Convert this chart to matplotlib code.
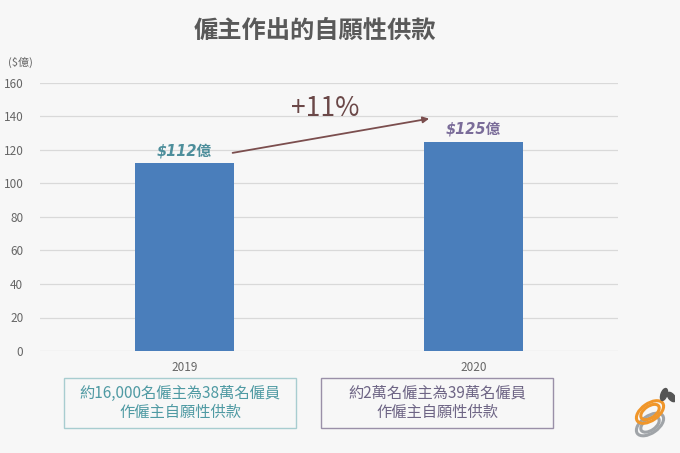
import matplotlib
matplotlib.use("Agg")
import matplotlib.pyplot as plt
from matplotlib.patches import Ellipse
import numpy as np

plt.rcParams['font.family'] = ['Noto Sans CJK TC', 'DejaVu Sans']

# data
years = ['2019', '2020']
amounts = [112, 125]
value_labels = ['$112億', '$125億']
label_colors = ['#4d8e9b', '#7a6c99']
growth = '+11%'
notes = ['約16,000名僱主為38萬名僱員\n作僱主自願性供款',
         '約2萬名僱主為39萬名僱員\n作僱主自願性供款']
note_colors = ['#4f9aa3', '#6e6585']
note_edges = ['#a8cdd0', '#9a90a8']
yticks = [0, 20, 40, 60, 80, 100, 120, 140, 160]

bg = '#f7f7f7'
fig = plt.figure(figsize=(6.8, 4.53), dpi=100, facecolor=bg)
ax = fig.add_axes([40/680, 1-351/453, 578/680, 268/453], facecolor=bg)

x = np.arange(len(years))
ax.bar(x, amounts, width=0.346, color='#4a7ebb', zorder=3)

ax.set_xlim(-0.5, 1.5)
ax.set_ylim(0, 160)
ax.set_yticks(yticks)
ax.set_xticks(x)
ax.set_xticklabels(years)
ax.grid(axis='y', color='#d9d9d9', linewidth=0.9, zorder=0)
for s in ax.spines.values():
    s.set_visible(False)
ax.tick_params(axis='both', length=0, colors='#666666', labelsize=8.5)
ax.tick_params(axis='y', pad=12)
ax.tick_params(axis='x', pad=7)

# value labels
for i in range(len(years)):
    ax.text(x[i], amounts[i] + 3, value_labels[i], ha='center', va='bottom',
            fontsize=10.5, fontweight='bold', style='italic',
            color=label_colors[i], family=['DejaVu Sans', 'Noto Sans CJK TC'])

# growth arrow
ax.annotate('', xy=(0.856, 139), xytext=(0.157, 118),
            arrowprops=dict(arrowstyle='-|>', color='#7b4e4e', lw=1.3,
                            mutation_scale=9))
ax.text(0.486, 145, growth, ha='center', va='center',
        fontsize=19, fontweight='medium', color='#6b4848')

# unit label
fig.text(8/680, 1-62/453, '($億)', fontsize=8, color='#666666', va='center')

# title
fig.text(315/680, 1-31/453, '僱主作出的自願性供款', ha='center', va='center',
         fontsize=17.5, fontweight='bold', color='#595959')

# notes boxes
boxes = [(64, 378, 232, 50), (321, 378, 232, 50)]
for (bx, by, bw, bh), note, c, ec in zip(boxes, notes, note_colors, note_edges):
    rect = plt.Rectangle((bx/680, 1-(by+bh)/453), bw/680, bh/453,
                         transform=fig.transFigure, fill=False,
                         edgecolor=ec, linewidth=1.0)
    fig.patches.append(rect)
    fig.text((bx + bw/2)/680, 1-(by + bh/2)/453, note, ha='center', va='center',
             fontsize=11, color=c, linespacing=1.15)

# small logo
lax = fig.add_axes([625/680, 1-442/453, 50/680, 60/453])
lax.set_xlim(0, 1)
lax.set_ylim(0, 1.2)
lax.axis('off')
for dy, col in [(0.35, '#a0a4a8'), (0.6, '#f0962a')]:
    for w in [0.62, 0.42]:
        lax.add_patch(Ellipse((0.5, dy), w, w*0.55, angle=35, fill=False,
                              edgecolor=col, linewidth=2.2))
lax.add_patch(Ellipse((0.78, 0.95), 0.12, 0.25, angle=-20, color='#555555'))
lax.add_patch(Ellipse((0.93, 0.9), 0.12, 0.22, angle=40, color='#555555'))

fig.savefig('out.png', dpi=100, facecolor=bg)
